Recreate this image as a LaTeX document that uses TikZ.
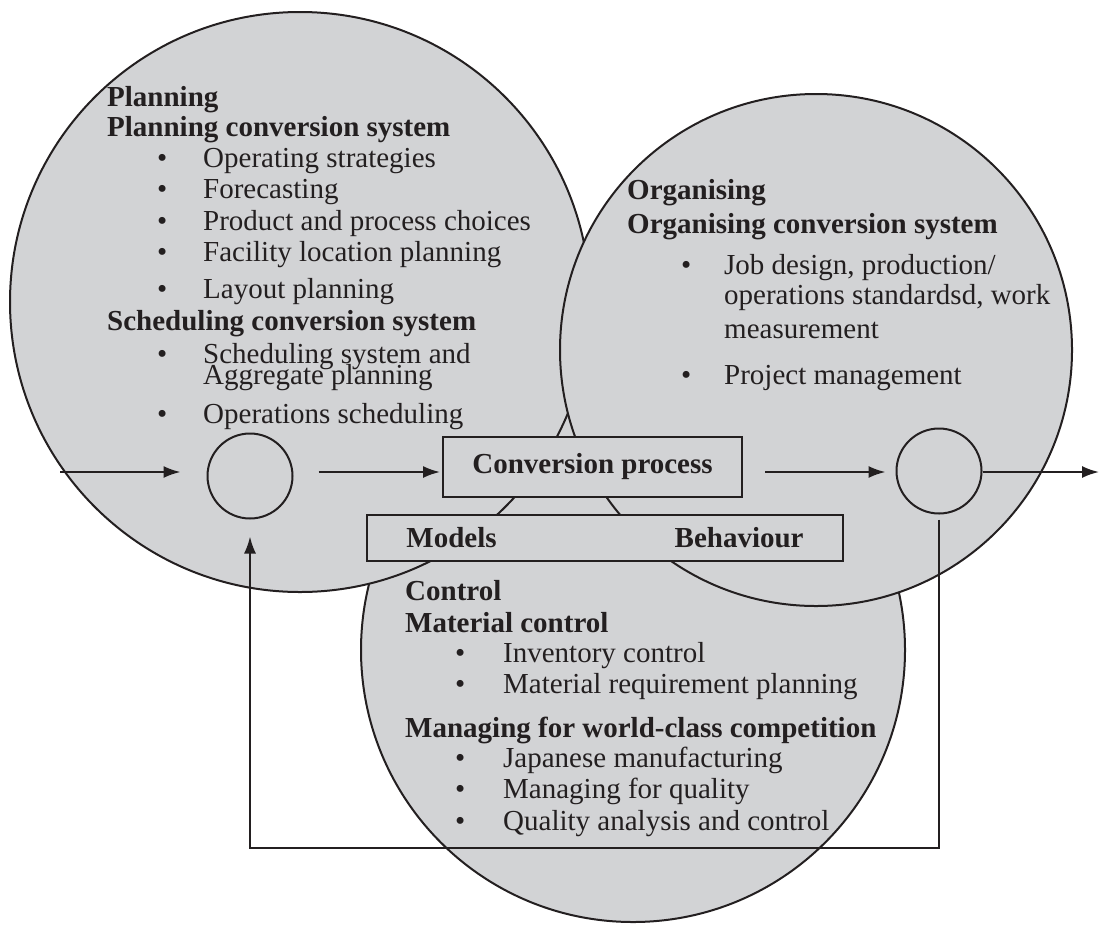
\documentclass[tikz,border=0pt]{standalone}
\usepackage{fontspec}
\setmainfont{Liberation Serif}
\usepackage{xcolor}
\usepackage{tikz}
\usetikzlibrary{arrows.meta, positioning}

\definecolor{venngray}{RGB}{210,211,213}
\definecolor{ink}{RGB}{35,31,32}

% text font, lines may come close
\newcommand{\txtfont}{\fontsize{29}{31}\selectfont\lineskiplimit=-40pt\relax}
% bullet item: indent, gap to text, text
\newcommand{\itm}[3][50pt]{\hspace*{#1}\makebox[#2][l]{\textbullet}#3}

\begin{document}
\begin{tikzpicture}[
            x=1pt, y=-1pt,
            bubble/.style={circle, draw=ink, line width=2pt, fill=venngray, inner sep=0pt},
            junction/.style={circle, draw=ink, line width=2pt, minimum size=85pt, inner sep=0pt},
            procbox/.style={rectangle, draw=ink, line width=2pt, fill=venngray, inner sep=0pt, text=ink,
                font=\txtfont\bfseries},
            txt/.style={anchor=base west, align=left, inner sep=0pt, text=ink, font=\txtfont},
            arrow/.style={draw=ink, line width=2pt, -{Latex[length=17pt, width=12pt]}}
        ]
        \useasboundingbox (0,0) rectangle (1099,924);

        % Functions
        \node[bubble, minimum size=544pt] (control) at (633,650) {};
        \node[bubble, minimum size=580pt] (planning) at (300,302) {};
        \node[bubble, minimum size=512pt] (organising) at (816,350) {};

        % Conversion flow
        \node[junction] (lc) at (250,476) {};
        \node[procbox, minimum width=299pt, minimum height=60pt] (conv) at (592.5,467) {Conversion process};
        \node[junction] (rc) at (939,471) {};
        \node[procbox, minimum width=476pt, minimum height=46pt, below=16pt of conv, xshift=12.5pt] (mb) {Models\hspace{178pt}Behaviour};

        \coordinate (in) at (60,472);
        \coordinate (out) at (1099,472);
        \coordinate (fb) at (600,848);

        % Planning (anchored at last baseline)
        \node[txt] (plantxt) at (107,423) {\textbf{Planning}\\[-1pt]
            \textbf{Planning conversion system}\\
            \itm{46pt}{Operating strategies}\\
            \itm{46pt}{Forecasting}\\[1pt]
            \itm{46pt}{Product and process choices}\\
            \itm{46pt}{Facility location planning}\\[6pt]
            \itm{46pt}{Layout planning}\\[1pt]
            \textbf{Scheduling conversion system}\\[2pt]
            \itm{46pt}{Scheduling system and}\\[-10pt]
            \hspace*{96pt}Aggregate planning\\[8pt]
            \itm{46pt}{Operations scheduling}};

        % Organising
        \node[txt] (orgtxt) at (627,384) {\textbf{Organising}\\[3pt]
            \textbf{Organising conversion system}\\[10pt]
            \itm[54pt]{43pt}{Job design, production/}\\[-1pt]
            \hspace*{97pt}operations standardsd, work\\[3pt]
            \hspace*{97pt}measurement\\[15pt]
            \itm[54pt]{43pt}{Project management}};

        % Control
        \node[txt] (ctrltxt) at (405,830) {\textbf{Control}\\[1pt]
            \textbf{Material control}\\[-1pt]
            \itm{48pt}{Inventory control}\\
            \itm{48pt}{Material requirement planning}\\[13pt]
            \textbf{Managing for world-class competition}\\[-1pt]
            \itm{48pt}{Japanese manufacturing}\\
            \itm{48pt}{Managing for quality}\\[1pt]
            \itm{48pt}{Quality analysis and control}};

        % Connections
        \draw[arrow, shorten >=26pt] (in) -- (in -| lc.west);
        \draw[arrow, shorten <=25pt, shorten >=2pt] (lc.east |- in) -- (in -| conv.west);
        \draw[arrow, shorten <=22pt, shorten >=10pt] (conv.east |- in) -- (in -| rc.west);
        \draw[arrow] (rc.east |- in) -- (out);
        \draw[arrow, shorten <=5pt, shorten >=17pt] (rc.south) |- (fb) -| (lc.south);

    \end{tikzpicture}
\end{document}
